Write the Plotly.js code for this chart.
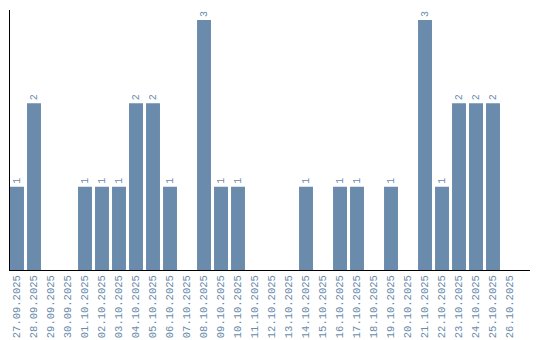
<!DOCTYPE html>
<html><head><meta charset="utf-8">
<script src="https://cdn.plot.ly/plotly-3.0.1.min.js"></script>
<style>html,body{margin:0;padding:0;background:#fff}#c{width:540px;height:340px}</style>
</head><body><div id="c"></div>
<script>
const dates = ["27.09.2025","28.09.2025","29.09.2025","30.09.2025","01.10.2025","02.10.2025","03.10.2025","04.10.2025","05.10.2025","06.10.2025","07.10.2025","08.10.2025","09.10.2025","10.10.2025","11.10.2025","12.10.2025","13.10.2025","14.10.2025","15.10.2025","16.10.2025","17.10.2025","18.10.2025","19.10.2025","20.10.2025","21.10.2025","22.10.2025","23.10.2025","24.10.2025","25.10.2025","26.10.2025"];
const counts = [1,2,0,0,1,1,1,2,2,1,0,3,1,1,0,0,0,1,0,1,1,0,1,0,3,1,2,2,2,0];
const labels = counts.map(v => v > 0 ? String(v) : "");
const color = "#6a8bab";
Plotly.newPlot("c", [{
  type: "bar", x: dates, y: counts, text: labels,
  textposition: "outside", textangle: -90, cliponaxis: false,
  textfont: {family: "Liberation Mono", size: 10, color: color},
  marker: {color: color}, width: 0.82, hoverinfo: "none"
}], {
  width: 540, height: 340,
  margin: {l: 10, r: 10, t: 10, b: 70, pad: 0},
  paper_bgcolor: "#fff", plot_bgcolor: "#fff",
  showlegend: false,
  xaxis: {type: "category", range: [-0.412, 30.176], showline: true, linecolor: "#000", linewidth: 1,
    showgrid: false, zeroline: false, ticks: "", tickangle: -90,
    tickfont: {family: "Liberation Mono", size: 10.5, color: color}},
  yaxis: {range: [0, 3.12], showline: true, linecolor: "#000", linewidth: 1, showgrid: false,
    zeroline: false, showticklabels: false, ticks: ""}
}, {staticPlot: true});
</script></body></html>
